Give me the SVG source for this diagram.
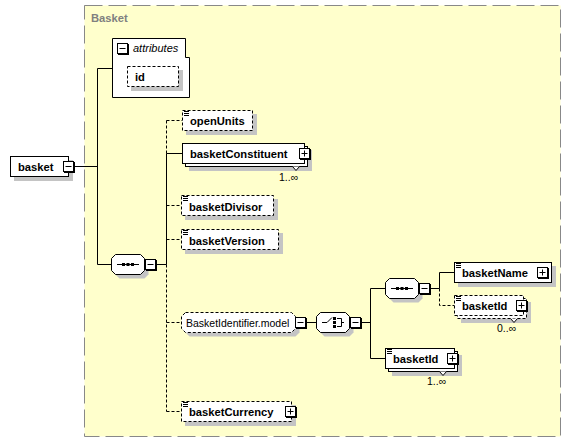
<svg xmlns="http://www.w3.org/2000/svg" xmlns:xlink="http://www.w3.org/1999/xlink" width="572" height="443" viewBox="0 0 572 443">
<style>
.sh{fill:#c4c4c4}
.box{fill:#fff;stroke:#000}
.dbox{fill:#fff;stroke:#000;stroke-dasharray:3,2}
.ln{stroke:#000;fill:none}
.dl{stroke:#000;fill:none;stroke-dasharray:3,2}
.b{font-family:"Liberation Sans",Arial,sans-serif;font-weight:bold;font-size:11.2px;fill:#000}
.n{font-family:"Liberation Sans",Arial,sans-serif;font-size:10.5px;fill:#000}
.i{font-family:"Liberation Sans",Arial,sans-serif;font-style:italic;font-size:11px;fill:#000}
</style>
<defs>
<g id="mi"><rect x="1" y="1" width="11" height="11" fill="#000"/><rect x="0.5" y="0.5" width="10" height="10" fill="#fff" stroke="#000"/><path d="M2.5 5.5H8.5" stroke="#000"/></g>
<g id="pl"><rect x="1" y="1" width="11" height="11" fill="#000"/><rect x="0.5" y="0.5" width="10" height="10" fill="#fff" stroke="#000"/><path d="M2.5 5.5H8.5M5.5 2.5V8.5" stroke="#000"/></g>
<path id="eq" d="M0 0.5H5M0 2.5H5M0 4.5H5" stroke="#000" fill="none"/>
<g id="oct"><polygon class="sh" points="8.5,4.5 33.5,4.5 37.5,8.5 37.5,20.5 33.5,24.5 8.5,24.5 4.5,20.5 4.5,8.5"/><polygon class="box" points="4.5,0.5 29.5,0.5 33.5,4.5 33.5,16.5 29.5,20.5 4.5,20.5 0.5,16.5 0.5,4.5"/></g>
<g id="seq"><use xlink:href="#oct"/><path d="M6 10.5H28" stroke="#000"/><rect x="11" y="9" width="3" height="3"/><rect x="15.5" y="9" width="3" height="3"/><rect x="20" y="9" width="3" height="3"/></g>
<g id="cho"><use xlink:href="#oct"/><path d="M6 10.5H11L16 5.5" stroke="#000" fill="none"/><rect x="17" y="5" width="3" height="3"/><rect x="17" y="9" width="3" height="3"/><rect x="17" y="13" width="3" height="3"/><path d="M21 6.5H25.5V14.5H21M25.5 10.5H28" stroke="#000" fill="none"/></g>
</defs>

<g id="frame">
<rect x="84.5" y="5.5" width="476" height="431" fill="#ffffcc" stroke="#888" stroke-dasharray="18,6"/>
<text x="91" y="22" class="b" style="fill:#808080">Basket</text>
</g>

<g id="connectors">
<path class="ln" d="M75 166.5H97.5M97.5 68.5V264.5M97.5 68.5H112.5M97.5 264.5H111.5"/>
<path class="ln" d="M157 264.5H166.5M166.5 153.5V264.5M166.5 153.5H182.5"/>
<path class="dl" d="M166.5 120.5V153.5M166.5 264.5V411.5M166.5 120.5H182.5M166.5 205.5H181.5M166.5 239.5H181.5M166.5 322.5H181.5M166.5 411.5H181.5"/>
<path class="ln" d="M307 322.5H316M362 322.5H370.5M370.5 288.5V358.5M370.5 288.5H385M370.5 358.5H385.5"/>
<path class="ln" d="M431 288.5H439.5V272.5H454.5"/>
<path class="dl" d="M439.5 288.5V305.5H454.5"/>
</g>

<g id="basket">
<rect class="sh" x="14" y="160" width="59" height="21"/>
<rect class="box" x="10.5" y="156.5" width="58" height="20"/>
<text x="18" y="171" class="b">basket</text>
<use xlink:href="#mi" x="63" y="161"/>
</g>

<g id="attributes">
<path class="box" d="M112.5 38.5H185.5V57.5H189.5V97.5H112.5Z"/>
<use xlink:href="#mi" x="117" y="43"/>
<text x="133" y="52" class="i">attributes</text>
<g id="attr-id">
<rect class="sh" x="131" y="70" width="52" height="21"/>
<rect class="dbox" x="127.5" y="66.5" width="51" height="20"/>
<text x="135" y="81" class="b">id</text>
</g>
</g>

<g id="seq1"><use xlink:href="#seq" x="111" y="254"/><use xlink:href="#mi" x="145" y="259"/></g>

<g id="openUnits">
<rect class="sh" x="186" y="114" width="71" height="21"/>
<rect class="dbox" x="182.5" y="110.5" width="70" height="20"/>
<use xlink:href="#eq" x="184" y="111"/>
<text x="190" y="125" class="b">openUnits</text>
</g>

<g id="basketConstituent">
<rect class="sh" x="189" y="150" width="123" height="21"/>
<rect class="box" x="185.5" y="146.5" width="122" height="20"/>
<rect class="box" x="182.5" y="143.5" width="122" height="20"/>
<text x="190" y="158" class="b">basketConstituent</text>
<use xlink:href="#pl" x="299" y="148"/>
<polyline class="box" points="292.5,166.5 296,170.5 299.5,166.5"/>
<text x="279" y="181" class="n">1..∞</text>
</g>

<g id="basketDivisor">
<rect class="sh" x="185" y="199" width="93" height="21"/>
<rect class="dbox" x="181.5" y="195.5" width="92" height="20"/>
<use xlink:href="#eq" x="183" y="196"/>
<text x="189" y="210.5" class="b">basketDivisor</text>
</g>

<g id="basketVersion">
<rect class="sh" x="185" y="233" width="98" height="21"/>
<rect class="dbox" x="181.5" y="229.5" width="97" height="20"/>
<use xlink:href="#eq" x="183" y="230"/>
<text x="189" y="244.5" class="b">basketVersion</text>
</g>

<g id="BasketIdentifier.model">
<polygon class="sh" points="189.5,316.5 295.5,316.5 299.5,320.5 299.5,332.5 295.5,336.5 189.5,336.5 185.5,332.5 185.5,320.5"/>
<polygon class="dbox" points="185.5,312.5 291.5,312.5 295.5,316.5 295.5,328.5 291.5,332.5 185.5,332.5 181.5,328.5 181.5,316.5"/>
<text x="186" y="326.5" class="n">BasketIdentifier.model</text>
<use xlink:href="#mi" x="295" y="317"/>
</g>

<g id="choice"><use xlink:href="#cho" x="316" y="312"/><use xlink:href="#mi" x="350" y="317"/></g>

<g id="seq2"><use xlink:href="#seq" x="385" y="278"/><use xlink:href="#mi" x="419" y="283"/></g>

<g id="basketName">
<rect class="sh" x="458" y="266" width="98" height="21"/>
<rect class="box" x="454.5" y="262.5" width="97" height="20"/>
<use xlink:href="#eq" x="456" y="263"/>
<text x="462" y="277" class="b">basketName</text>
<use xlink:href="#pl" x="537" y="267"/>
</g>

<g id="basketId-opt">
<rect class="sh" x="461" y="302" width="70" height="21"/>
<rect class="dbox" x="457.5" y="298.5" width="69" height="20"/>
<rect class="dbox" x="454.5" y="295.5" width="69" height="20"/>
<use xlink:href="#eq" x="456" y="296"/>
<text x="462" y="310" class="b">basketId</text>
<use xlink:href="#pl" x="516" y="300"/>
<polyline class="box" points="510.5,318.5 514,322.5 517.5,318.5"/>
<text x="497" y="332" class="n">0..∞</text>
</g>

<g id="basketId">
<rect class="sh" x="392" y="355" width="70" height="21"/>
<rect class="box" x="388.5" y="351.5" width="69" height="20"/>
<rect class="box" x="385.5" y="348.5" width="69" height="20"/>
<use xlink:href="#eq" x="387" y="349"/>
<text x="393" y="363" class="b">basketId</text>
<use xlink:href="#pl" x="447" y="353"/>
<polyline class="box" points="439.5,371.5 443,375.5 446.5,371.5"/>
<text x="427" y="385" class="n">1..∞</text>
</g>

<g id="basketCurrency">
<rect class="sh" x="185" y="405" width="111" height="21"/>
<rect class="dbox" x="181.5" y="401.5" width="110" height="20"/>
<use xlink:href="#eq" x="183" y="402"/>
<text x="189" y="416" class="b">basketCurrency</text>
<use xlink:href="#pl" x="285" y="406"/>
</g>
</svg>
